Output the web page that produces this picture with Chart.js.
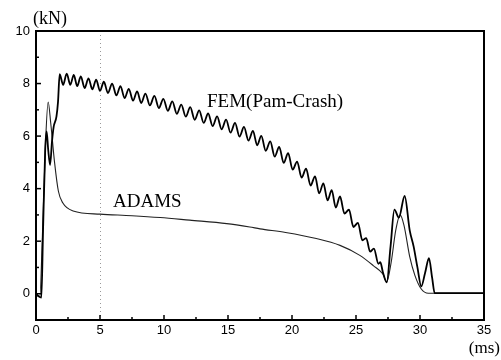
<!DOCTYPE html>
<html>
<head>
<meta charset="utf-8">
<script src="https://cdn.jsdelivr.net/npm/chart.js@4/dist/chart.umd.min.js"></script>
<style>
  html, body { margin: 0; padding: 0; background: #fff; }
  #wrap { width: 501px; height: 360px; }
</style>
</head>
<body>
<div id="wrap"><canvas id="grafico"></canvas></div>
<script>
// FEM (Pam-Crash) curve, time in ms and force in kN
var femT = [0, 0.2, 0.42, 0.55, 0.72, 0.83, 0.95, 1.1, 1.25, 1.38, 1.6, 1.72,
  1.85, 2.12, 2.4, 2.68, 2.95, 3.22, 3.5, 3.8, 4.1, 4.4, 4.7, 5.0, 5.3, 5.62, 5.95, 6.28,
  6.6, 6.92, 7.25, 7.58, 7.9, 8.22, 8.55, 8.9, 9.25, 9.6, 9.95, 10.3, 10.65, 11.0, 11.35,
  11.7, 12.05, 12.4, 12.75, 13.1, 13.45, 13.8, 14.15, 14.5, 14.85, 15.2, 15.55, 15.9,
  16.25, 16.6, 16.95, 17.28, 17.6, 17.95, 18.3, 18.65, 19.0, 19.35, 19.7, 20.05, 20.4,
  20.75, 21.1, 21.45, 21.8, 22.12, 22.45, 22.78, 23.1, 23.42, 23.75, 24.1, 24.45, 24.8,
  25.15, 25.5, 25.8, 26.1, 26.4, 26.75, 26.9, 27.1, 27.4, 27.7, 28.0, 28.35, 28.8, 29.2,
  29.5, 29.8, 30.1, 30.4, 30.7, 30.95, 31.15, 35];
var femKN = [0, -0.1, -0.15, 2.4, 5.5, 6.18, 5.5, 4.9, 5.8, 6.35, 6.75, 7.3,
  8.36, 7.95, 8.38, 7.95, 8.33, 7.9, 8.27, 7.83, 8.2, 7.78, 8.15, 7.72, 8.07, 7.64, 8.0, 7.55,
  7.9, 7.45, 7.8, 7.35, 7.7, 7.26, 7.62, 7.17, 7.53, 7.07, 7.42, 6.96, 7.32, 6.85, 7.2,
  6.74, 7.1, 6.62, 6.98, 6.5, 6.86, 6.38, 6.75, 6.26, 6.63, 6.13, 6.5, 5.98,
  6.35, 5.83, 6.2, 5.65, 6.01, 5.44, 5.8, 5.22, 5.59, 4.98, 5.35, 4.72, 5.03,
  4.42, 4.76, 4.12, 4.47, 3.82, 4.2, 3.55, 3.94, 3.28, 3.7, 3.05, 3.2, 2.54,
  2.7, 2.03, 2.12, 1.6, 1.72, 1.14, 1.2, 0.82, 0.43, 1.8, 3.2, 2.9, 3.72, 2.4,
  1.8, 1.0, 0.28, 0.8, 1.35, 0.6, 0.02, 0.02];

// ADAMS curve
var adamsT = [0, 0.3, 0.5, 0.75, 0.95, 1.15, 1.45, 1.75, 2.1, 2.9, 5, 7.5, 9.7, 12, 14.9,
  16.7, 17.5, 19.5, 21.9, 23.75, 25.3, 26.35, 27.1, 27.4, 27.75, 28.1, 28.45, 28.75, 29.2,
  29.6, 30.1, 30.65, 35];
var adamsKN = [0, -0.1, 2.2, 5.8, 7.3, 6.5, 5.0, 3.9, 3.45, 3.15, 3.03, 2.97, 2.9, 2.8, 2.67,
  2.54, 2.47, 2.33, 2.1, 1.84, 1.46, 1.07, 0.75, 0.45, 1.2, 2.4, 3.0, 2.6, 1.4,
  0.7, 0.18, 0.02, 0.02];

var xTicks = [0, 5, 10, 15, 20, 25, 30, 35];
var xMinorTicks = [2.5, 7.5, 12.5, 17.5, 22.5, 27.5, 32.5];
var yTicks = [0, 2, 4, 6, 8, 10];
var yMinorTicks = [-1, 1, 3, 5, 7, 9];

var fonteEixo = "13px 'Liberation Sans', Arial, sans-serif";
var fonteSerif = "'Liberation Serif', 'Times New Roman', serif";

function pontos(ts, vs) {
  return ts.map(function (t, i) { return { x: t, y: vs[i] }; });
}

// moldura, marcas internas, linha pontilhada e textos
var moldura = {
  id: 'moldura',
  afterDraw: function (chart) {
    var ctx = chart.ctx;
    var a = chart.chartArea;
    var sx = chart.scales.x, sy = chart.scales.y;
    ctx.save();

    // linha pontilhada em 5 ms
    ctx.strokeStyle = '#999';
    ctx.lineWidth = 1;
    ctx.setLineDash([1, 3]);
    var px5 = Math.round(sx.getPixelForValue(5)) + 0.5;
    ctx.beginPath();
    ctx.moveTo(px5, a.top);
    ctx.lineTo(px5, a.bottom);
    ctx.stroke();
    ctx.setLineDash([]);

    ctx.strokeStyle = '#000';
    ctx.lineWidth = 1.5;
    xTicks.forEach(function (v) {
      var p = sx.getPixelForValue(v);
      ctx.beginPath(); ctx.moveTo(p, a.bottom); ctx.lineTo(p, a.bottom - 5); ctx.stroke();
    });
    xMinorTicks.forEach(function (v) {
      var p = sx.getPixelForValue(v);
      ctx.beginPath(); ctx.moveTo(p, a.bottom); ctx.lineTo(p, a.bottom - 3); ctx.stroke();
    });
    yTicks.forEach(function (v) {
      var p = sy.getPixelForValue(v);
      ctx.beginPath(); ctx.moveTo(a.left, p); ctx.lineTo(a.left + 5, p); ctx.stroke();
    });
    yMinorTicks.forEach(function (v) {
      var p = sy.getPixelForValue(v);
      ctx.beginPath(); ctx.moveTo(a.left, p); ctx.lineTo(a.left + 3, p); ctx.stroke();
    });

    ctx.lineWidth = 2;
    ctx.strokeRect(a.left, a.top, a.right - a.left, a.bottom - a.top);

    ctx.fillStyle = '#000';
    ctx.textBaseline = 'alphabetic';
    ctx.font = '18px ' + fonteSerif;
    ctx.textAlign = 'left';
    ctx.fillText('(kN)', 33, 24);
    ctx.font = '17px ' + fonteSerif;
    ctx.textAlign = 'right';
    ctx.fillText('(ms)', 500, 353);

    ctx.font = '19px ' + fonteSerif;
    ctx.textAlign = 'left';
    ctx.fillText('FEM(Pam-Crash)', 207, 107);
    ctx.fillText('ADAMS', 113, 207);
    ctx.restore();
  }
};

new Chart(document.getElementById('grafico').getContext('2d'), {
  type: 'line',
  data: {
    datasets: [{
      label: 'FEM(Pam-Crash)',
      data: pontos(femT, femKN),
      borderColor: '#000',
      borderWidth: 1.8,
      pointRadius: 0,
      cubicInterpolationMode: 'monotone',
      fill: false
    }, {
      label: 'ADAMS',
      data: pontos(adamsT, adamsKN),
      borderColor: '#222',
      borderWidth: 1.1,
      pointRadius: 0,
      cubicInterpolationMode: 'monotone',
      fill: false
    }]
  },
  options: {
    responsive: true,
    maintainAspectRatio: false,
    animation: false,
    layout: { padding: { top: 31, right: 17, left: 0, bottom: 0 } },
    plugins: { legend: { display: false }, tooltip: { enabled: false } },
    scales: {
      x: {
        type: 'linear',
        min: 0,
        max: 35,
        afterFit: function (s) { s.height = 40; },
        afterBuildTicks: function (s) { s.ticks = xTicks.map(function (v) { return { value: v }; }); },
        ticks: { color: '#000', font: { family: "'Liberation Sans', Arial, sans-serif", size: 13 }, padding: 3, maxRotation: 0 },
        grid: { display: false, drawTicks: false },
        border: { display: false }
      },
      y: {
        min: -1,
        max: 10,
        afterFit: function (s) { s.width = 36; },
        afterBuildTicks: function (s) { s.ticks = yTicks.map(function (v) { return { value: v }; }); },
        ticks: { color: '#000', font: { family: "'Liberation Sans', Arial, sans-serif", size: 13 }, padding: 6 },
        grid: { display: false, drawTicks: false },
        border: { display: false }
      }
    }
  },
  plugins: [moldura]
});
</script>
</body>
</html>
